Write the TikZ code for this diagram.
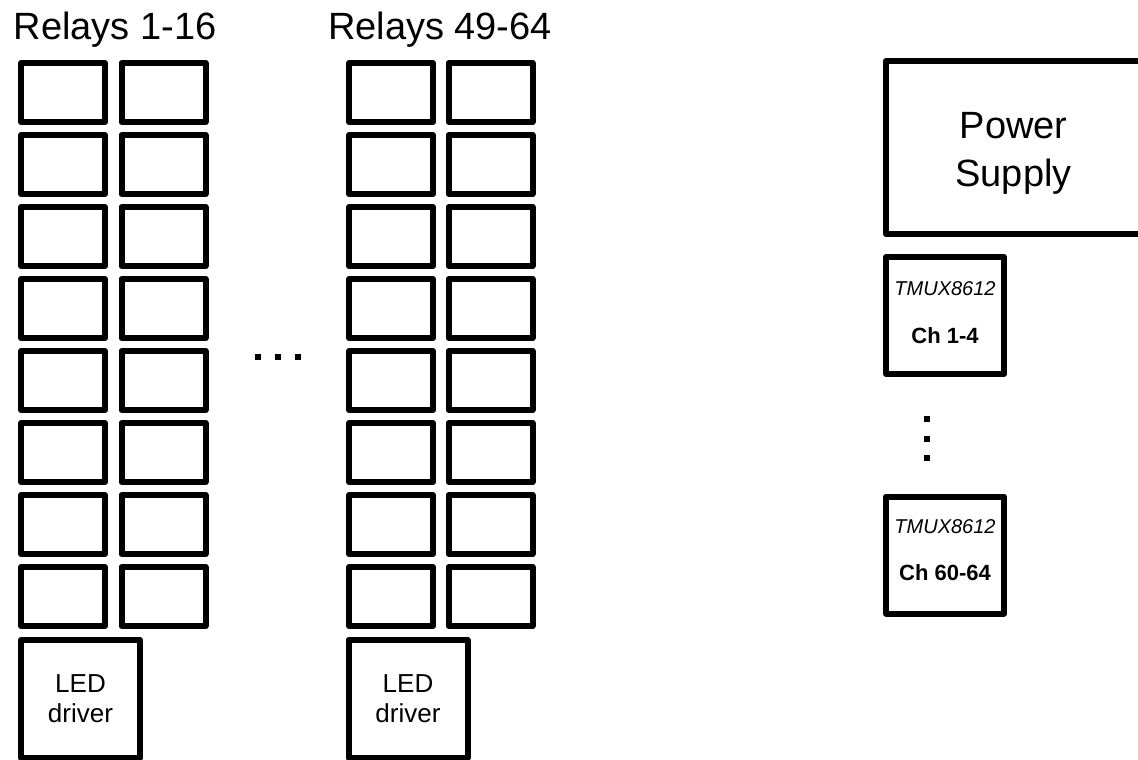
\documentclass[tikz,border=0pt]{standalone}
\usepackage{fontspec}
\setmainfont{Liberation Sans}
\usetikzlibrary{positioning}
\tikzset{
  boxline/.style={draw, line width=6pt, line join=round, fill=white, inner sep=0pt},
  relaybox/.style={boxline, minimum width=84pt, minimum height=59pt},
  drvbox/.style={boxline, minimum width=119pt, minimum height=118pt, align=center,
    font=\fontsize{26}{30}\selectfont},
  muxbox/.style={boxline, minimum width=118pt, minimum height=117pt},
  psubox/.style={boxline, minimum width=259pt, minimum height=173pt},
  grouptitle/.style={anchor=base, font=\fontsize{38}{44}\selectfont},
  muxname/.style={anchor=base, font=\fontsize{20}{24}\selectfont\itshape},
  muxch/.style={anchor=base, font=\fontsize{22}{26}\selectfont\bfseries},
  dotmark/.style={fill=black}
}
\begin{document}
\begin{tikzpicture}[x=1pt, y=-1pt]
\fill[white] (0,0) rectangle (1138,760);
\useasboundingbox (0,0) rectangle (1138,760);

\node[grouptitle] (t1) at (115, 40) {Relays 1-16};
\node[grouptitle] (t2) at (440, 40) {Relays 49-64};

% relay grids
\foreach \k in {0,...,7} {
  \node[relaybox] (ra\k) at (63, {92.5+72*\k}) {};
  \node[relaybox] (rb\k) at (163.5, {92.5+72*\k}) {};
  \node[relaybox] (rc\k) at (391, {92.5+72*\k}) {};
  \node[relaybox] (rd\k) at (490.5, {92.5+72*\k}) {};
}

\node[drvbox] (drv1) at (80.5, 699) {LED\\driver};
\node[drvbox] (drv2) at (408, 699) {LED\\driver};

\foreach \x in {258, 278, 298}
  \fill[dotmark] ({\x-3.25}, 353.75) rectangle ++(6.5, 6.5);

% supply and muxes
\node[psubox] (psu) at (1015.5, 147.5) {};
\node[align=center, font=\fontsize{38}{48}\selectfont] (psutxt) at (1013.5, 153.4) {Power\\Supply};

\node[muxbox] (mux1) at (945, 315.5) {};
\node[muxname] (mux1n) at ([yshift=20.5pt]mux1.center) {TMUX8612};
\node[muxch] (mux1c) at ([yshift=-27.5pt]mux1.center) {Ch 1-4};

\foreach \y in {419, 439, 458}
  \fill[dotmark] (923.75, {\y-3.25}) rectangle ++(6.5, 6.5);

\node[muxbox] (mux2) at (945, 555) {};
\node[muxname] (mux2n) at ([yshift=22pt]mux2.center) {TMUX8612};
\node[muxch] (mux2c) at ([yshift=-25pt]mux2.center) {Ch 60-64};

\end{tikzpicture}
\end{document}
